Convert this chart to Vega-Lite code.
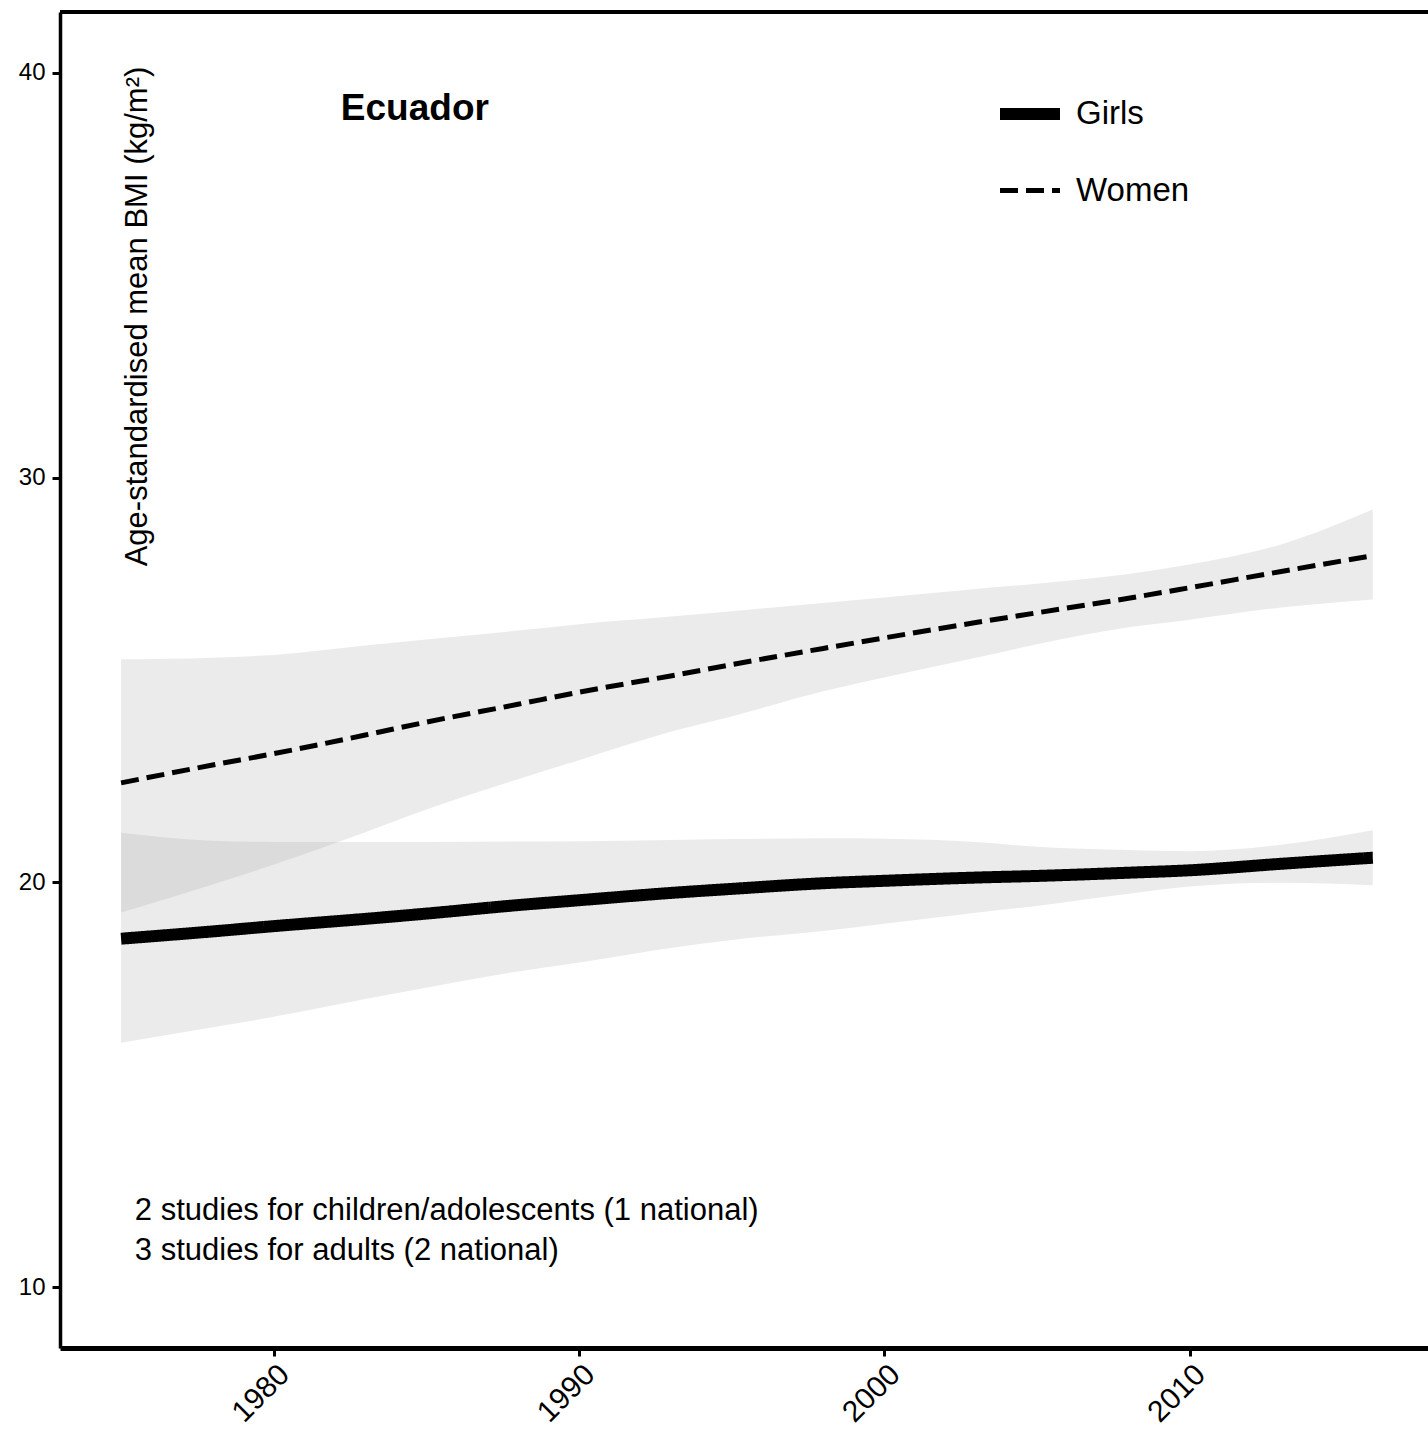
{
  "$schema": "https://vega.github.io/schema/vega-lite/v6.json",
  "width": 1368,
  "height": 1336,
  "autosize": "none",
  "padding": {"left": 60, "top": 12, "right": 0, "bottom": 105},
  "background": "white",
  "config": {
    "view": {"stroke": null},
    "font": "Liberation Sans",
    "axis": {"grid": false, "labelColor": "black", "domainColor": "black", "tickColor": "black", "titleColor": "black", "labelFont": "Liberation Sans", "titleFont": "Liberation Sans"}
  },
  "data": {
    "values": [
      {"year": 1975, "group": "Girls", "bmi": 18.61, "lo": 16.04, "hi": 21.23},
      {"year": 1978, "group": "Girls", "bmi": 18.79, "lo": 16.42, "hi": 21.03},
      {"year": 1980, "group": "Girls", "bmi": 18.92, "lo": 16.68, "hi": 21.0},
      {"year": 1983, "group": "Girls", "bmi": 19.1, "lo": 17.12, "hi": 21.0},
      {"year": 1985, "group": "Girls", "bmi": 19.23, "lo": 17.4, "hi": 21.0},
      {"year": 1988, "group": "Girls", "bmi": 19.44, "lo": 17.8, "hi": 21.01},
      {"year": 1990, "group": "Girls", "bmi": 19.56, "lo": 18.02, "hi": 21.02},
      {"year": 1993, "group": "Girls", "bmi": 19.74, "lo": 18.38, "hi": 21.05},
      {"year": 1995, "group": "Girls", "bmi": 19.84, "lo": 18.58, "hi": 21.07},
      {"year": 1998, "group": "Girls", "bmi": 19.98, "lo": 18.8, "hi": 21.09},
      {"year": 2000, "group": "Girls", "bmi": 20.04, "lo": 18.98, "hi": 21.08},
      {"year": 2003, "group": "Girls", "bmi": 20.12, "lo": 19.25, "hi": 21.0},
      {"year": 2005, "group": "Girls", "bmi": 20.16, "lo": 19.42, "hi": 20.88},
      {"year": 2008, "group": "Girls", "bmi": 20.24, "lo": 19.72, "hi": 20.8},
      {"year": 2010, "group": "Girls", "bmi": 20.3, "lo": 19.9, "hi": 20.77},
      {"year": 2013, "group": "Girls", "bmi": 20.46, "lo": 19.99, "hi": 20.93},
      {"year": 2016, "group": "Girls", "bmi": 20.61, "lo": 19.93, "hi": 21.29},
      {"year": 1975, "group": "Women", "bmi": 22.46, "lo": 19.26, "hi": 25.51},
      {"year": 1978, "group": "Women", "bmi": 22.9, "lo": 19.95, "hi": 25.55},
      {"year": 1980, "group": "Women", "bmi": 23.18, "lo": 20.44, "hi": 25.62},
      {"year": 1983, "group": "Women", "bmi": 23.64, "lo": 21.24, "hi": 25.85},
      {"year": 1985, "group": "Women", "bmi": 23.96, "lo": 21.8, "hi": 26.0},
      {"year": 1988, "group": "Women", "bmi": 24.4, "lo": 22.55, "hi": 26.22},
      {"year": 1990, "group": "Women", "bmi": 24.7, "lo": 23.02, "hi": 26.38},
      {"year": 1993, "group": "Women", "bmi": 25.1, "lo": 23.72, "hi": 26.57},
      {"year": 1995, "group": "Women", "bmi": 25.38, "lo": 24.1, "hi": 26.7},
      {"year": 1998, "group": "Women", "bmi": 25.78, "lo": 24.72, "hi": 26.9},
      {"year": 2000, "group": "Women", "bmi": 26.04, "lo": 25.06, "hi": 27.04},
      {"year": 2003, "group": "Women", "bmi": 26.42, "lo": 25.55, "hi": 27.25},
      {"year": 2005, "group": "Women", "bmi": 26.66, "lo": 25.88, "hi": 27.38},
      {"year": 2008, "group": "Women", "bmi": 27.02, "lo": 26.3, "hi": 27.62},
      {"year": 2010, "group": "Women", "bmi": 27.28, "lo": 26.49, "hi": 27.85},
      {"year": 2013, "group": "Women", "bmi": 27.68, "lo": 26.79, "hi": 28.35},
      {"year": 2016, "group": "Women", "bmi": 28.07, "lo": 26.99, "hi": 29.21}
    ]
  },
  "layer": [
    {
      "mark": {"type": "area", "interpolate": "monotone", "fill": "#999999", "opacity": 0.2},
      "encoding": {
        "x": {"field": "year", "type": "quantitative", "scale": {"domain": [1973.0, 2017.81], "nice": false, "zero": false},
          "axis": {"orient": "bottom", "values": [1980, 1990, 2000, 2010], "format": "d", "title": null, "labelAngle": -45, "labelAlign": "right", "labelBaseline": "top", "labelFontSize": 30, "labelPadding": 3, "tickSize": 8, "tickWidth": 3, "domainWidth": 5}},
        "y": {"field": "lo", "type": "quantitative", "scale": {"domain": [8.5, 41.5], "nice": false, "zero": false},
          "axis": {"values": [10, 20, 30, 40], "labelFontSize": 24, "labelPadding": 7, "tickSize": 8, "tickWidth": 3, "domainWidth": 3.5,
            "title": "Age-standardised mean BMI (kg/m²)", "titleFontSize": 31, "titleFontWeight": "normal", "titleAngle": -90, "titleX": 86, "titleY": 304, "titleAlign": "center", "titleBaseline": "alphabetic"}},
        "y2": {"field": "hi"},
        "detail": {"field": "group"}
      }
    },
    {
      "mark": {"type": "line", "interpolate": "monotone", "color": "black", "strokeCap": "butt"},
      "encoding": {
        "x": {"field": "year", "type": "quantitative"},
        "y": {"field": "bmi", "type": "quantitative"},
        "strokeDash": {"field": "group", "type": "nominal", "scale": {"domain": ["Girls", "Women"], "range": [[1, 0], [18, 8]]},
          "legend": {"title": null, "orient": "none", "legendX": 934, "legendY": 66, "symbolType": "stroke", "symbolSize": 3600, "symbolStrokeColor": "black", "labelFontSize": 33, "labelOffset": 10, "rowPadding": 20, "padding": 0, "labelColor": "black", "labelFont": "Liberation Sans"}},
        "strokeWidth": {"field": "group", "type": "nominal", "scale": {"domain": ["Girls", "Women"], "range": [12, 5]},
          "legend": {"title": null, "orient": "none", "legendX": 934, "legendY": 66, "symbolType": "stroke", "symbolSize": 3600, "symbolStrokeColor": "black", "labelFontSize": 33, "labelOffset": 10, "rowPadding": 20, "padding": 0, "labelColor": "black", "labelFont": "Liberation Sans"}}
      }
    },
    {
      "data": {"values": [{"label": "Ecuador"}]},
      "mark": {"type": "text", "fontWeight": "bold", "fontSize": 37, "align": "left", "baseline": "alphabetic", "color": "black"},
      "encoding": {
        "x": {"datum": 1982.2, "type": "quantitative"},
        "y": {"datum": 38.82, "type": "quantitative"},
        "text": {"field": "label"}
      }
    },
    {
      "data": {"values": [{"note": "studies"}]},
      "mark": {"type": "text", "fontSize": 31, "align": "left", "baseline": "alphabetic", "color": "black", "lineHeight": 40,
        "text": ["2 studies for children/adolescents (1 national)", "3 studies for adults (2 national)"]},
      "encoding": {
        "x": {"datum": 1975.45, "type": "quantitative"},
        "y": {"datum": 11.66, "type": "quantitative"}
      }
    },
    {
      "data": {"values": [{"edge": "top"}]},
      "mark": {"type": "rule", "color": "black", "strokeWidth": 4},
      "encoding": {
        "y": {"datum": 41.5, "type": "quantitative"}
      }
    }
  ]
}
